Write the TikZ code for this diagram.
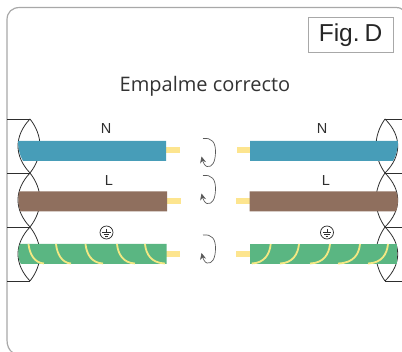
\documentclass[tikz,border=0pt]{standalone}
\usepackage{fontspec}
\setmainfont{Liberation Sans}
\newfontfamily\titlefont{Open Sans}
\usetikzlibrary{arrows.meta}
\definecolor{wblue}{HTML}{479DB8}
\definecolor{wbrown}{HTML}{8F6F5E}
\definecolor{wgreen}{HTML}{5AB682}
\definecolor{wtip}{HTML}{FDE58F}
\definecolor{wstripe}{HTML}{F3E883}
\definecolor{frameg}{HTML}{A8A8A8}
\definecolor{inkd}{HTML}{2E2E2E}
\tikzset{
  x=1pt,y=-1pt,
  framestyle/.style={draw=frameg,line width=1.2pt},
  lensline/.style={draw=inkd,line width=0.8pt},
  tipstyle/.style={fill=wtip,draw=none},
  stripe/.style={draw=wstripe,line width=1.8pt},
  turn/.style={draw=black!65,line width=0.7pt,-{Stealth[length=6.5pt,width=6pt]}},
  wlabel/.style={font=\fontsize{14.5}{14.5}\selectfont,text=inkd,inner sep=0pt},
  pe/.style={draw=inkd,circle,line width=0.7pt,minimum size=13pt,inner sep=0pt},
}
\newcommand{\lensL}[1]{%
  \draw[lensline] (30,#1) .. controls (14,{#1+17}) and (14,{#1+37}) .. (30,{#1+54});
  \draw[lensline] (30,#1) .. controls (43.3,{#1+17}) and (43.3,{#1+37}) .. (30,{#1+54});
  \draw[lensline] (7,#1) -- (30,#1);
}
\newcommand{\lensR}[1]{%
  \draw[lensline] (385,#1) .. controls (373,{#1+17}) and (373,{#1+37}) .. (385,{#1+54});
  \draw[lensline] (385,#1) .. controls (402,{#1+17}) and (402,{#1+37}) .. (385,{#1+54});
  \draw[lensline] (385,#1) -- (402,#1);
}
\newcommand{\turnmark}[1]{%
  \draw[turn] (203,#1) .. controls (212,{#1-1}) and (215.5,{#1+4}) .. (215.5,{#1+13})
    .. controls (215.5,{#1+24}) and (212,{#1+29}) .. (207,{#1+28}) .. controls (205,{#1+27.5}) and (203,{#1+24}) .. (201.5,{#1+18});
}
\newcommand{\pesym}[1]{%
  \draw[inkd,line width=0.7pt] ([yshift=3.5pt]#1.center) -- ([yshift=0pt]#1.center)
    ([xshift=-4.2pt,yshift=0pt]#1.center) -- ([xshift=4.2pt,yshift=0pt]#1.center)
    ([xshift=-2.8pt,yshift=-1.7pt]#1.center) -- ([xshift=2.8pt,yshift=-1.7pt]#1.center)
    ([xshift=-1.4pt,yshift=-3.4pt]#1.center) -- ([xshift=1.4pt,yshift=-3.4pt]#1.center);
}
\begin{document}
\begin{tikzpicture}
\useasboundingbox (0,0) rectangle (402,352);
% outer frame
\draw[framestyle] (403,10) .. controls (401,8) and (399,7.5) .. (396,7.5) -- (20,7.5) .. controls (12,7.5) and (7,12) .. (7,20) -- (7,340) .. controls (7,346) and (9,350) .. (13,353);
% lens brackets
\lensL{119}\lensL{173}\lensL{227}
\draw[lensline] (7,281) -- (30,281);
\lensR{119}\lensR{173}\lensR{227}
\draw[lensline] (385,281) -- (402,281);
% left tips
\fill[tipstyle] (166,147) rectangle (180,153);
\fill[tipstyle] (167,198) rectangle (181,204);
\fill[tipstyle] (166,251) rectangle (180,257);
% right tips
\fill[tipstyle] (237,147) rectangle (250,153);
\fill[tipstyle] (236,198) rectangle (250,204);
\fill[tipstyle] (236,251) rectangle (250,257);
% left wires
\fill[wblue] (18,141) -- (166,141) -- (166,161) -- (23,161) .. controls (20,156) and (18,149) .. (18,141);
\fill[wbrown] (19.5,191.3) -- (167,191.3) -- (167,211.3) -- (20.5,211.3) .. controls (18,206) and (17.5,196) .. (19.5,191.3);
\fill[wgreen] (20,244) -- (166.5,244) -- (166.5,264) -- (21,264) .. controls (17.5,259) and (17.5,249) .. (20,244);
% right wires
\fill[wblue] (250,141) -- (398,141) .. controls (398,149) and (396,156) .. (393,161) -- (250,161) -- cycle;
\fill[wbrown] (249.5,191.3) -- (396,191.3) .. controls (398.5,196) and (398.5,206) .. (396,211.3) -- (249.5,211.3) -- cycle;
\fill[wgreen] (249.5,244) -- (397,244) -- (397,264) -- (249.5,264) -- cycle;
% stripes left
\foreach \a/\b in {28.5/44,56/71,85.5/103,117/135,145/165}
  \draw[stripe] (\a,244) .. controls ({\a+1},254) and ({\a+6},263) .. (\b,263.5);
% stripes right
\foreach \a/\b in {270.7/251.7,299/280,330/310,360/338,388/368}
  \draw[stripe] (\a,244) .. controls ({\a-1},254) and ({\a-6},263) .. (\b,263.5);
% rotation marks
\turnmark{138.5}\turnmark{175.5}\turnmark{235}
% labels
\node[inner sep=0pt,font=\titlefont\fontsize{20}{20}\selectfont,text=black!80] (title) at (205,86) {Empalme correcto};
\node[draw=frameg,line width=0.9pt,minimum width=85pt,minimum height=35pt,inner sep=0pt,font=\fontsize{24.5}{24.5}\selectfont,text=black!85] (fig) at (350.5,35) {Fig.\hspace{0.2em}D};
\node[wlabel] (nl) at (106,128.5) {N};
\node[wlabel] (ll) at (109,181) {L};
\node[wlabel] (nr) at (322,128.5) {N};
\node[wlabel] (lr) at (326,181) {L};
\node[pe] (pl) at (106.5,232.5) {};
\node[pe] (pr) at (327,232.5) {};
\pesym{pl}\pesym{pr}
\end{tikzpicture}
\end{document}
